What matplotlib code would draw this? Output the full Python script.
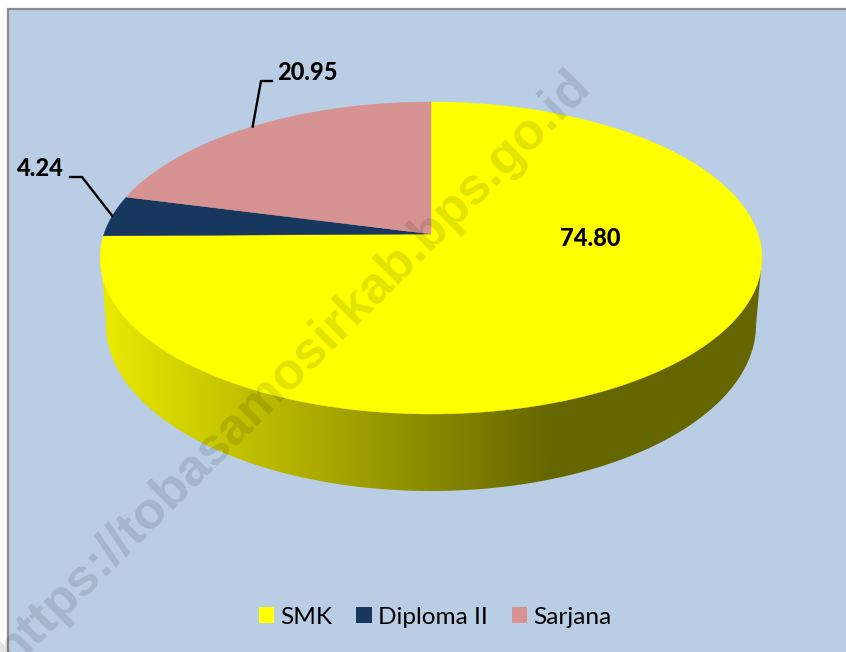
import numpy as np
import matplotlib
matplotlib.use('Agg')
import matplotlib.pyplot as plt
from matplotlib.patches import Patch, PathPatch, Rectangle
from matplotlib.path import Path

categories = ['SMK', 'Diploma II', 'Sarjana']
values = [74.80, 4.24, 20.95]
value_labels = ['74.80', '4.24', '20.95']
colors = ['#ffff00', '#17375e', '#d79392']
watermark = 'https://tobasamosirkab.bps.go.id'

plt.rcParams['font.family'] = ['Lato', 'DejaVu Sans']

W, H = 846, 652
CX, CY = 431, 234  # where the pie centre lands on screen
TILT_B, TILT_C, RX = -116.3, 0.1538, 327


def project(a):
    # circle seen in perspective, a is clockwise from 12 o'clock
    d = 1 + TILT_C * np.cos(a)
    return CX + RX * np.sin(a) / d, (CY + TILT_B * np.cos(a)) / d


fig = plt.figure(figsize=(W / 100, H / 100), dpi=100)
ax = fig.add_axes([0, 0, 1, 1])
ax.set_xlim(0, W)
ax.set_ylim(H, 0)
ax.axis('off')

ax.add_patch(Rectangle((8, 9), W, H, fc='#b9cde5', ec='#8c8c8c', lw=1.6))

# side wall, shaded left to right
t = np.linspace(np.pi, 0, 200)
wall_x = np.r_[101, 431 + 325 * np.cos(t), 762]
wall_y = np.r_[258, 325 + 166 * np.sin(t), 258]
wall = PathPatch(Path(np.c_[wall_x, wall_y]), fc='none', ec='none')
ax.add_patch(wall)
xs = np.arange(95, 770)
shade = np.interp(xs, [101, 550], [0.92, 0.40])
grad = np.zeros((1, len(xs), 3))
grad[..., 0] = shade
grad[..., 1] = shade
im = ax.imshow(grad, extent=(95, 770, 500, 250), aspect='auto', zorder=2)
im.set_clip_path(wall)
ax.set_xlim(0, W)
ax.set_ylim(H, 0)

# top face
bounds = np.cumsum([0] + values) / sum(values) * 2 * np.pi
mids = []
for i, c in enumerate(colors):
    a = np.linspace(bounds[i], bounds[i + 1], 300)
    x, y = project(a)
    ax.fill(np.r_[CX, x], np.r_[CY, y], color=c, lw=0.3, zorder=3)
    mids.append(project((bounds[i] + bounds[i + 1]) / 2))

# labels
lw = 1.7
ax.text(590, 238, value_labels[0], fontsize=17, fontweight=900, ha='center', va='center', zorder=5)
mx, my = mids[1]
ax.plot([mx, 82, 70], [my, 177, 177], color='black', lw=lw, zorder=5)
ax.text(40, 169, value_labels[1], fontsize=17, fontweight=900, ha='center', va='center', zorder=5)
mx, my = mids[2]
ax.plot([mx, 261, 272], [my, 81, 81], color='black', lw=lw, zorder=5)
ax.text(307, 73, value_labels[2], fontsize=17, fontweight=900, ha='center', va='center', zorder=5)

handles = [Patch(fc=c, ec='none', label=n) for c, n in zip(colors, categories)]
ax.legend(handles=handles, ncol=3, loc='center', bbox_to_anchor=(435 / W, 1 - 617 / H),
          frameon=False, fontsize=17.6, handlelength=0.62, handleheight=0.62,
          handletextpad=0.25, columnspacing=1.0, borderpad=0, borderaxespad=0)

ax.text(592, 88, watermark, fontsize=37.5, fontweight='bold', family=['Liberation Sans'],
        color='black', alpha=0.115, rotation=45, rotation_mode='anchor',
        ha='right', va='baseline', zorder=6, clip_on=False)

fig.savefig('out.png', dpi=100)
